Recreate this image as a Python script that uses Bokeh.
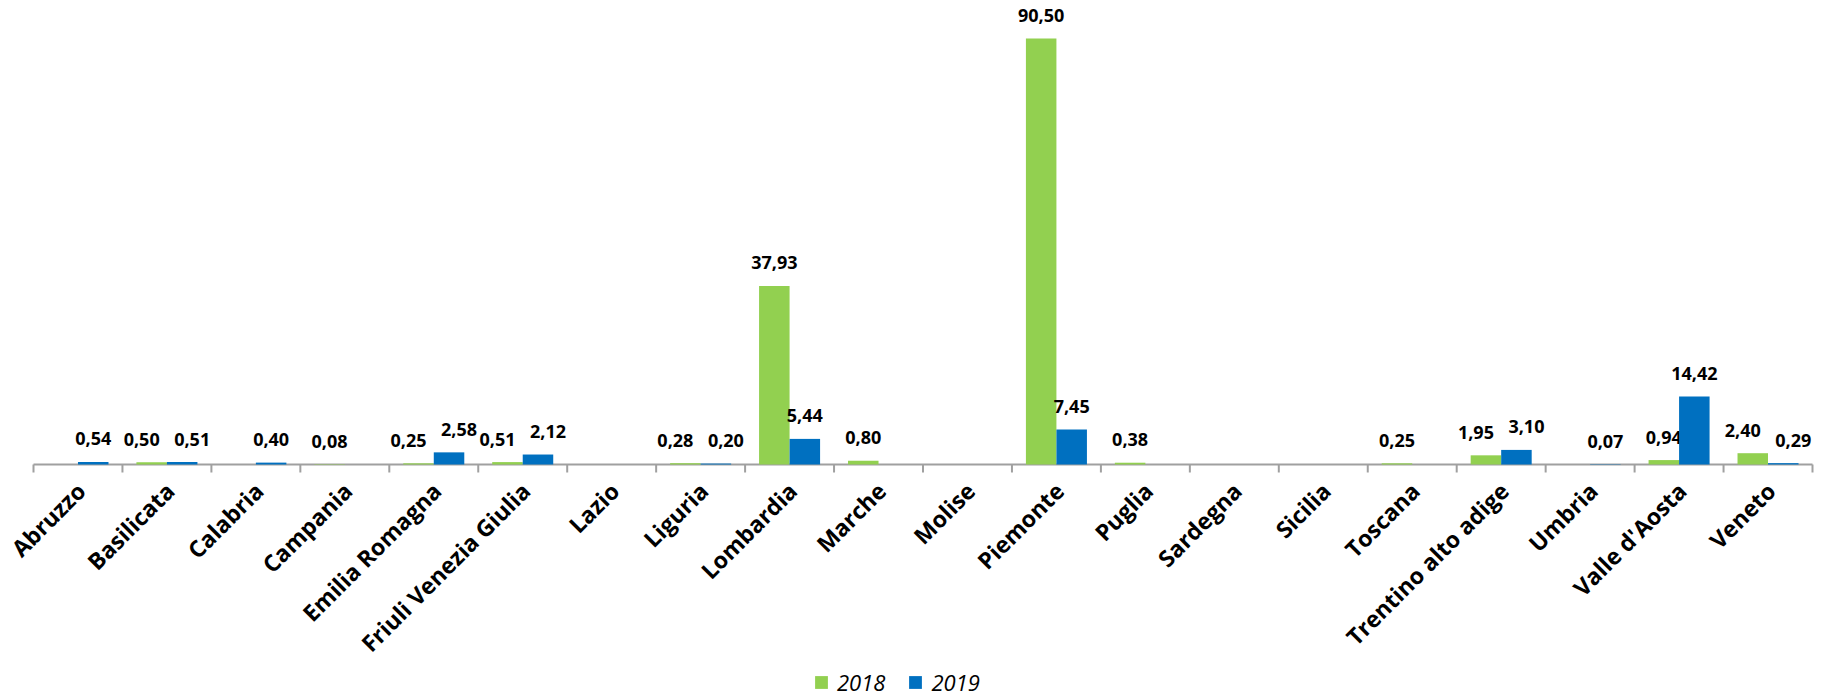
import math
from bokeh.plotting import figure
from bokeh.models import ColumnDataSource, Range1d, Legend, LegendItem
from bokeh.transform import dodge
from bokeh.core.properties import value
from bokeh.embed import file_html
from bokeh.resources import INLINE

regions = ["Abruzzo", "Basilicata", "Calabria", "Campania", "Emilia Romagna",
           "Friuli Venezia Giulia", "Lazio", "Liguria", "Lombardia", "Marche",
           "Molise", "Piemonte", "Puglia", "Sardegna", "Sicilia", "Toscana",
           "Trentino alto adige", "Umbria", "Valle d'Aosta", "Veneto"]
v2018 = [None, 0.50, None, 0.08, 0.25, 0.51, None, 0.28, 37.93, 0.80,
         None, 90.50, 0.38, None, None, 0.25, 1.95, None, 0.94, 2.40]
v2019 = [0.54, 0.51, 0.40, None, 2.58, 2.12, None, 0.20, 5.44, None,
         None, 7.45, None, None, None, None, 3.10, 0.07, 14.42, 0.29]
series_names = ["2018", "2019"]

GREEN = "#92D050"
BLUE = "#0070C0"
AXIS = "#A0A0A0"
FONT = value("Open Sans")

W, H = 1823, 697
N = len(regions)
# horizontal layout: category band from 33 px to 1812 px
BAND_L, BAND_R = 33, 1812
CAT_PX = (BAND_R - BAND_L) / N
X0 = -BAND_L / CAT_PX
X1 = N + (W - BAND_R) / CAT_PX
# vertical layout: value 0 at 464 px, 90.5 at 38 px
BASELINE_PX = 464
PX_PER_UNIT = (464 - 38) / 90.5
Y1 = BASELINE_PX / PX_PER_UNIT
Y0 = -(H - BASELINE_PX) / PX_PER_UNIT
TICK = 8 / PX_PER_UNIT


def make_source(vals, other, sign):
    xs, vs, labs, xo = [], [], [], []
    for i, (v, o) in enumerate(zip(vals, other)):
        if v is None:
            continue
        xs.append(i + 0.5)
        vs.append(v)
        labs.append(f"{v:.2f}".replace(".", ","))
        # nudge labels apart when the neighbouring bar is of similar height
        close = o is not None and abs(v - o) * PX_PER_UNIT < 20
        xo.append(sign * 10 if close else 0)
    return ColumnDataSource(dict(x=xs, val=vs, lab=labs, xo=xo))


p = figure(width=W, height=H, output_backend="svg", toolbar_location=None,
           x_range=Range1d(X0, X1), y_range=Range1d(Y0, Y1),
           x_axis_location=None, y_axis_location=None,
           min_border_left=0, min_border_right=0, min_border_top=0,
           min_border_bottom=0)
p.grid.visible = False
p.outline_line_color = None
p.background_fill_color = "white"
p.border_fill_color = "white"

# category axis: base line, boundary ticks and rotated category names
bounds = list(range(N + 1))
p.segment(x0=[bounds[0]], y0=[0], x1=[bounds[-1]], y1=[0],
          line_color=AXIS, line_width=2)
p.segment(x0=bounds, y0=[0] * len(bounds), x1=bounds, y1=[-TICK] * len(bounds),
          line_color=AXIS, line_width=2)
cat_src = ColumnDataSource(dict(x=[i + 0.5 for i in range(N)], name=regions))
p.text(x="x", y=0, text="name", source=cat_src, angle=math.pi / 4,
       text_align="right", text_baseline="middle", x_offset=3, y_offset=22,
       text_font=FONT, text_font_style="bold", text_font_size="23px",
       text_color="black")

bw = 0.343
renderers = []
for vals, other, col, off, sign in ((v2018, v2019, GREEN, -bw / 2, -1),
                                    (v2019, v2018, BLUE, bw / 2, 1)):
    src = make_source(vals, other, sign)
    r = p.vbar(x=dodge("x", off), top="val", bottom=0, width=bw,
               source=src, fill_color=col, line_color=None)
    renderers.append(r)
    p.text(x=dodge("x", off), y="val", text="lab", source=src,
           x_offset="xo", text_align="center", text_baseline="alphabetic", y_offset=-23,
           text_font=FONT, text_font_style="bold", text_font_size="18px",
           text_color="black")

legend = Legend(items=[LegendItem(label=series_names[0], renderers=[renderers[0]]),
                       LegendItem(label=series_names[1], renderers=[renderers[1]])],
                orientation="horizontal", location=(813, 0),
                glyph_width=16, glyph_height=16, label_standoff=8, spacing=22,
                padding=0, margin=0, border_line_color=None, background_fill_alpha=0,
                label_text_font="Open Sans", label_text_font_style="italic",
                label_text_font_size="22px", label_text_color="black")
p.add_layout(legend)

open("out.html", "w").write(file_html(p, INLINE))
